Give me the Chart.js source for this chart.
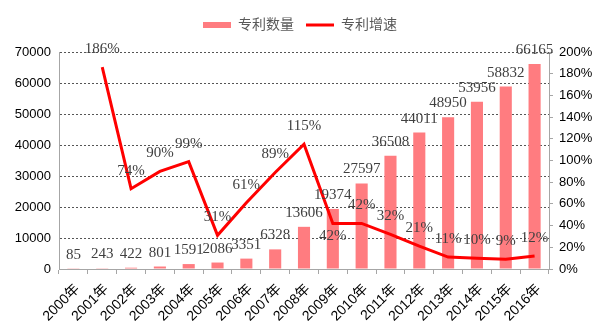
<!DOCTYPE html>
<html>
<head>
<meta charset="utf-8">
<script src="https://cdn.jsdelivr.net/npm/chart.js@4/dist/chart.umd.min.js"></script>
<style>
  html, body { margin: 0; padding: 0; background: #ffffff; }
  #wrap { width: 605px; height: 327px; }
</style>
</head>
<body>
<div id="wrap"><canvas id="c" width="605" height="327"></canvas></div>
<script>
// Years on the category axis
const years = ['2000年','2001年','2002年','2003年','2004年','2005年','2006年','2007年','2008年',
  '2009年','2010年','2011年','2012年','2013年','2014年','2015年','2016年'];
// Number of patents per year
const patentCounts = [85, 243, 422, 801, 1591, 2086, 3351, 6328, 13606, 19374, 27597,
  36508, 44011, 48950, 53956, 58832, 66165];
// Year-on-year growth, percent (no value for the first year)
const growthPct = [null, 186, 74, 90, 99, 31, 61, 89, 115, 42, 42, 32, 21, 11, 10, 9, 12];
// Where each growth label sits relative to its point
const growthLabelSide = ['above','above','above','above','above','above','above','above','above',
  'below','above','above','above','above','above','above','above'];

const BAR_COLOR = '#ff7c80';
const LINE_COLOR = '#ff0000';
const SANS = '"Liberation Sans", Arial, "Noto Sans CJK SC", sans-serif';
const SERIF = '"Liberation Serif", "Times New Roman", serif';

// Value labels above bars and next to line points
const valueLabels = {
  id: 'valueLabels',
  afterDatasetsDraw(chart) {
    const ctx = chart.ctx;
    ctx.save();
    ctx.font = '15px ' + SERIF;
    ctx.fillStyle = '#404040';
    ctx.textAlign = 'center';
    ctx.textBaseline = 'alphabetic';
    chart.getDatasetMeta(0).data.forEach((bar, i) => {
      ctx.fillText(String(patentCounts[i]), bar.x, bar.y - 10);
    });
    chart.getDatasetMeta(1).data.forEach((pt, i) => {
      const v = growthPct[i];
      if (v === null || v === undefined) return;
      const y = growthLabelSide[i] === 'below' ? pt.y + 17 : pt.y - 14;
      ctx.fillText(v + '%', pt.x, y);
    });
    ctx.restore();
  }
};

// Extra white space between the legend row and the plot
const legendGap = {
  id: 'legendGap',
  afterInit(chart) {
    const lg = chart.legend;
    if (!lg) return;
    const fit = lg.fit.bind(lg);
    lg.fit = function () { fit(); this.height += 10; };
  }
};

new Chart(document.getElementById('c'), {
  data: {
    labels: years,
    datasets: [
      {
        type: 'bar',
        label: '专利数量',
        data: patentCounts,
        backgroundColor: BAR_COLOR,
        borderWidth: 0,
        barPercentage: 0.42,
        categoryPercentage: 1.0,
        yAxisID: 'y',
        order: 2
      },
      {
        type: 'line',
        label: '专利增速',
        data: growthPct,
        borderColor: LINE_COLOR,
        backgroundColor: LINE_COLOR,
        borderWidth: 3,
        pointRadius: 0,
        tension: 0,
        spanGaps: false,
        yAxisID: 'y1',
        order: 1
      }
    ]
  },
  options: {
    responsive: false,
    animation: false,
    devicePixelRatio: 1,
    layout: { padding: { left: 5, right: 10, top: 6, bottom: 0 } },
    plugins: {
      tooltip: { enabled: false },
      legend: {
        position: 'top',
        align: 'center',
        labels: {
          font: { family: SANS, size: 14 },
          color: '#595959',
          usePointStyle: true,
          pointStyleWidth: 28,
          boxHeight: 6,
          padding: 12,
          generateLabels(chart) {
            return [
              { text: '专利数量', datasetIndex: 0, fillStyle: BAR_COLOR, strokeStyle: BAR_COLOR,
                lineWidth: 0, pointStyle: 'rect', hidden: false, fontColor: '#595959' },
              { text: '专利增速', datasetIndex: 1, fillStyle: LINE_COLOR, strokeStyle: LINE_COLOR,
                lineWidth: 3, pointStyle: 'line', hidden: false, fontColor: '#595959' }
            ];
          }
        }
      }
    },
    scales: {
      x: {
        offset: true,
        grid: { display: true, offset: true, drawOnChartArea: false, drawTicks: true,
                tickLength: 5, color: '#a6a6a6' },
        border: { display: true, color: '#a6a6a6', width: 1 },
        ticks: { font: { family: SANS, size: 14 }, color: '#000000',
                 maxRotation: 45, minRotation: 45, autoSkip: false, padding: 7, labelOffset: 4 },
        afterFit(scale) { scale.height = 58; }
      },
      y: {
        position: 'left',
        min: 0, max: 70000,
        ticks: { stepSize: 10000, font: { family: SANS, size: 13 }, color: '#000000', padding: 8,
                 callback: v => String(v) },
        grid: { color: '#555555', lineWidth: 1, drawTicks: false },
        border: { display: true, color: '#a6a6a6', width: 1, dash: [2, 2] },
        afterFit(scale) { scale.width = 54; }
      },
      y1: {
        position: 'right',
        min: 0, max: 200,
        ticks: { stepSize: 20, font: { family: SANS, size: 13 }, color: '#000000', padding: 6,
                 callback: v => v + '%' },
        grid: { drawOnChartArea: false, drawTicks: true, tickLength: 4, color: '#a6a6a6' },
        border: { display: true, color: '#a6a6a6', width: 1 },
        afterFit(scale) { scale.width = 46; }
      }
    }
  },
  plugins: [valueLabels, legendGap]
});
</script>
</body>
</html>
